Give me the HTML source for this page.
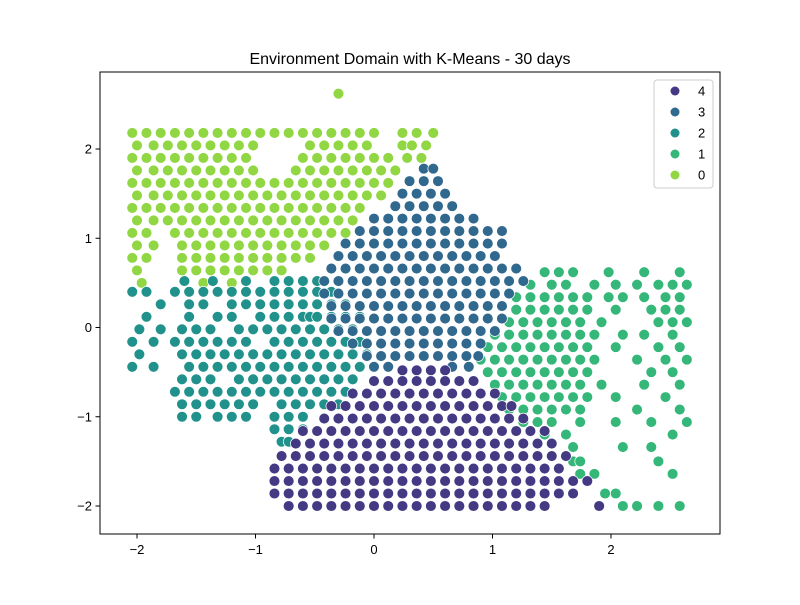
<!DOCTYPE html>
<html><head><meta charset="utf-8"><style>
body{margin:0;background:#fff;}
svg{font-family:"Liberation Sans","DejaVu Sans",sans-serif;}
</style></head><body>
<svg id="chart" width="800" height="600">
<rect width="800" height="600" fill="#fff"/>
<text x="410" y="64" text-anchor="middle" font-size="16">Environment Domain with K-Means - 30 days</text>
<g id="points"></g>
<rect x="100" y="72" width="620" height="462" fill="none" stroke="#000" stroke-width="1"/>
<g id="axes"></g>
<g>
<rect x="654" y="80" width="59" height="108" rx="3" fill="#fff" fill-opacity="0.8" stroke="#ccc"/>
<g id="legend"></g>
</g>
</svg>
<script>
const clusterLabels = ["4","3","2","1","0"];
const clusterColors = ["#443983","#31688e","#21918c","#35b779","#90d743"];
const rows0 = [
[2.62,[-0.3]],
[2.18,[-2.04,-1.92,-1.80,-1.68,-1.56,-1.44,-1.32,-1.20,-1.08,-0.96,-0.84,-0.72,-0.60,-0.48,-0.36,-0.24,-0.12,0.0,0.24,0.36,0.50]],
[2.04,[-2.0,-1.86,-1.74,-1.62,-1.50,-1.38,-1.26,-1.14,-1.02,-0.54,-0.42,-0.30,-0.18,-0.06,0.24,0.32,0.44]],
[1.90,[-2.04,-1.92,-1.80,-1.68,-1.56,-1.44,-1.32,-1.20,-1.08,-0.60,-0.48,-0.36,-0.24,-0.12,0.0,0.12,0.28,0.40]],
[1.76,[-2.0,-1.86,-1.74,-1.62,-1.50,-1.38,-1.26,-1.14,-1.02,-0.66,-0.54,-0.42,-0.30,-0.18,-0.06,0.06,0.18]],
[1.62,[-2.04,-1.92,-1.80,-1.68,-1.56,-1.44,-1.32,-1.20,-1.08,-0.96,-0.84,-0.72,-0.60,-0.48,-0.36,-0.24,-0.12,0.0,0.12]],
[1.48,[-2.0,-1.86,-1.74,-1.62,-1.50,-1.38,-1.26,-1.14,-1.02,-0.90,-0.78,-0.66,-0.54,-0.42,-0.30,-0.18,-0.06,0.06]],
[1.34,[-2.04,-1.92,-1.80,-1.68,-1.56,-1.44,-1.32,-1.20,-1.08,-0.96,-0.84,-0.72,-0.60,-0.48,-0.36,-0.24,-0.12]],
[1.20,[-2.0,-1.86,-1.74,-1.62,-1.50,-1.38,-1.26,-1.14,-1.02,-0.90,-0.78,-0.66,-0.54,-0.42,-0.30,-0.18]],
[1.06,[-2.04,-1.92,-1.68,-1.56,-1.44,-1.32,-1.20,-1.08,-0.96,-0.84,-0.72,-0.60,-0.48,-0.36,-0.24]],
[0.92,[-2.0,-1.86,-1.62,-1.50,-1.38,-1.26,-1.14,-1.02,-0.90,-0.78,-0.66,-0.54,-0.42]],
[0.78,[-2.04,-1.92,-1.62,-1.50,-1.38,-1.26,-1.14,-1.02,-0.90,-0.78,-0.66,-0.54]],
[0.64,[-2.0,-1.62,-1.50,-1.38,-1.26,-1.14,-1.02,-0.90,-0.78]],
[0.50,[-1.96,-1.44,-1.20]]
];
const rows1 = [
[0.62,[1.44,1.56,1.68,1.98,2.28,2.58]],
[0.48,[1.32,1.50,1.62,1.86,2.04,2.22,2.40,2.52,2.64]],
[0.34,[1.20,1.32,1.44,1.56,1.68,1.80,1.98,2.10,2.28,2.46,2.58]],
[0.20,[1.20,1.32,1.44,1.56,1.68,1.80,2.04,2.34,2.46,2.58]],
[0.06,[1.14,1.26,1.38,1.50,1.62,1.74,1.92,2.40,2.52,2.64]],
[-0.08,[1.02,1.14,1.26,1.38,1.50,1.62,1.74,1.86,2.10,2.28,2.52]],
[-0.22,[0.96,1.08,1.20,1.32,1.44,1.56,1.68,1.80,2.04,2.40,2.58]],
[-0.36,[0.90,1.02,1.14,1.26,1.38,1.50,1.62,1.74,1.86,2.22,2.46,2.64]],
[-0.50,[0.96,1.08,1.20,1.32,1.44,1.56,1.68,1.80,2.34,2.52]],
[-0.64,[1.02,1.14,1.26,1.38,1.50,1.62,1.74,1.92,2.28,2.58]],
[-0.78,[1.08,1.20,1.32,1.44,1.56,1.68,1.80,2.04,2.46]],
[-0.92,[1.14,1.26,1.38,1.50,1.62,1.74,2.22,2.58]],
[-1.06,[1.26,1.38,1.50,1.74,2.04,2.34,2.64]],
[-1.20,[1.44,1.62,2.52]],
[-1.34,[1.68,2.10,2.34]],
[-1.50,[1.68,1.74,2.40]],
[-1.64,[1.74,1.86,2.52]],
[-1.86,[1.95,2.04]],
[-2.0,[2.10,2.22,2.40,2.58]]
];
const rows2 = [
[0.52,[-1.60,-1.36,-1.08,-0.84,-0.72,-0.60,-0.48]],
[0.40,[-2.04,-1.92,-1.68,-1.56,-1.44,-1.32,-1.20,-1.08,-0.96,-0.84,-0.72,-0.60,-0.48,-0.36]],
[0.26,[-1.80,-1.56,-1.44,-1.20,-1.08,-0.96,-0.84,-0.72,-0.60,-0.48,-0.36,-0.24]],
[0.12,[-1.92,-1.56,-1.32,-1.20,-0.96,-0.84,-0.72,-0.60,-0.54,-0.48,-0.36,-0.24,-0.12]],
[-0.02,[-1.98,-1.80,-1.62,-1.50,-1.38,-1.14,-1.02,-0.90,-0.78,-0.66,-0.54,-0.42,-0.30,-0.18]],
[-0.16,[-2.04,-1.86,-1.68,-1.56,-1.44,-1.32,-1.20,-1.08,-0.84,-0.72,-0.60,-0.48,-0.36,-0.24,-0.12]],
[-0.30,[-1.98,-1.62,-1.50,-1.38,-1.26,-1.14,-1.02,-0.90,-0.78,-0.66,-0.54,-0.42,-0.30,-0.18,-0.06]],
[-0.44,[-2.04,-1.86,-1.56,-1.44,-1.32,-1.20,-1.08,-0.96,-0.84,-0.72,-0.60,-0.48,-0.36,-0.24,-0.12]],
[-0.58,[-1.62,-1.50,-1.38,-1.14,-1.02,-0.90,-0.78,-0.66,-0.54,-0.42,-0.30,-0.18]],
[-0.72,[-1.68,-1.56,-1.44,-1.32,-1.20,-1.08,-0.96,-0.84,-0.72,-0.60,-0.48,-0.36,-0.24]],
[-0.86,[-1.62,-1.50,-1.38,-1.26,-1.14,-1.02,-0.78,-0.66,-0.54,-0.42,-0.30]],
[-1.00,[-1.62,-1.50,-1.32,-1.20,-1.08,-0.84,-0.72,-0.60]],
[-1.14,[-0.84,-0.72,-0.60]],
[-1.28,[-0.78,-0.72]]
];
const rows3 = [
[1.78,[0.42,0.50]],
[1.64,[0.30,0.42,0.54]],
[1.50,[0.24,0.36,0.48,0.60]],
[1.36,[0.18,0.30,0.42,0.54,0.66]],
[1.22,[0.0,0.12,0.24,0.36,0.48,0.60,0.72,0.84]],
[1.08,[-0.12,0.0,0.12,0.24,0.36,0.48,0.60,0.72,0.84,0.96,1.08]],
[0.94,[-0.24,-0.12,0.0,0.12,0.24,0.36,0.48,0.60,0.72,0.84,0.96,1.08]],
[0.80,[-0.30,-0.18,-0.06,0.06,0.18,0.30,0.42,0.54,0.66,0.78,0.90,1.02]],
[0.66,[-0.36,-0.24,-0.12,0.0,0.12,0.24,0.36,0.48,0.60,0.72,0.84,0.96,1.08,1.20]],
[0.52,[-0.42,-0.30,-0.18,-0.06,0.06,0.18,0.30,0.42,0.54,0.66,0.78,0.90,1.02,1.14,1.26]],
[0.38,[-0.42,-0.30,-0.18,-0.06,0.06,0.18,0.30,0.42,0.54,0.66,0.78,0.90,1.02,1.14]],
[0.24,[-0.36,-0.24,-0.12,0.0,0.12,0.24,0.36,0.48,0.60,0.72,0.84,0.96,1.08]],
[0.10,[-0.36,-0.24,-0.12,0.0,0.12,0.24,0.36,0.48,0.60,0.72,0.84,0.96,1.08]],
[-0.04,[-0.30,-0.18,-0.06,0.06,0.18,0.30,0.42,0.54,0.66,0.78,0.90,1.02]],
[-0.18,[-0.18,-0.06,0.06,0.18,0.30,0.42,0.54,0.66,0.78,0.90]],
[-0.32,[-0.06,0.06,0.18,0.30,0.42,0.54,0.66,0.78,0.88]],
[-0.44,[0.0,0.12,0.66,0.80]]
];
const rows4 = [
[-0.48,[0.24,0.36,0.48,0.60]],
[-0.60,[0.0,0.12,0.24,0.36,0.48,0.60,0.72,0.84]],
[-0.74,[-0.18,-0.06,0.06,0.18,0.30,0.42,0.54,0.66,0.78,0.90,1.02]],
[-0.88,[-0.36,-0.24,-0.12,0.0,0.12,0.24,0.36,0.48,0.60,0.72,0.84,0.96,1.08,1.16]],
[-1.02,[-0.42,-0.30,-0.18,-0.06,0.06,0.18,0.30,0.42,0.54,0.66,0.78,0.90,1.02,1.14,1.26]],
[-1.16,[-0.60,-0.48,-0.36,-0.24,-0.12,0.0,0.12,0.24,0.36,0.48,0.60,0.72,0.84,0.96,1.08,1.20,1.32,1.44]],
[-1.30,[-0.66,-0.54,-0.42,-0.30,-0.18,-0.06,0.06,0.18,0.30,0.42,0.54,0.66,0.78,0.90,1.02,1.14,1.26,1.38,1.50]],
[-1.44,[-0.78,-0.66,-0.54,-0.42,-0.30,-0.18,-0.06,0.06,0.18,0.30,0.42,0.54,0.66,0.78,0.90,1.02,1.14,1.26,1.38,1.50,1.62]],
[-1.58,[-0.84,-0.72,-0.60,-0.48,-0.36,-0.24,-0.12,0.0,0.12,0.24,0.36,0.48,0.60,0.72,0.84,0.96,1.08,1.20,1.32,1.44,1.56]],
[-1.72,[-0.84,-0.72,-0.60,-0.48,-0.36,-0.24,-0.12,0.0,0.12,0.24,0.36,0.48,0.60,0.72,0.84,0.96,1.08,1.20,1.32,1.44,1.56,1.68,1.80]],
[-1.86,[-0.84,-0.72,-0.60,-0.48,-0.36,-0.24,-0.12,0.0,0.12,0.24,0.36,0.48,0.60,0.72,0.84,0.96,1.08,1.20,1.32,1.44,1.56,1.68]],
[-2.00,[-0.72,-0.60,-0.48,-0.36,-0.24,-0.12,0.0,0.12,0.24,0.36,0.48,0.60,0.72,0.84,0.96,1.08,1.20,1.32,1.44,1.90]]
];
const xTicks = [-2,-1,0,1,2];
const yTicks = [-2,-1,0,1,2];

const NS = "http://www.w3.org/2000/svg";
function xScale(v){ return 374 + 118.5*v; }
function yScale(v){ return 327.5 - 89.25*v; }
const ptsG = document.getElementById('points');
const clusterRows = [rows4, rows3, rows2, rows1, rows0];
[4,3,2,1,0].forEach(function(ci){
  const rows = clusterRows[ci];
  rows.forEach(function(r){
    r[1].forEach(function(x){
      const c = document.createElementNS(NS,'circle');
      c.setAttribute('cx', xScale(x));
      c.setAttribute('cy', yScale(r[0]));
      c.setAttribute('r', 5.4);
      c.setAttribute('fill', clusterColors[ci]);
      c.setAttribute('stroke', '#fff');
      c.setAttribute('stroke-width', 0.7);
      
      
      ptsG.appendChild(c);
    });
  });
});
const axG = document.getElementById('axes');
xTicks.forEach(function(t){
  const px = xScale(t);
  const l = document.createElementNS(NS,'line');
  l.setAttribute('x1',px);l.setAttribute('x2',px);l.setAttribute('y1',534);l.setAttribute('y2',538.5);
  l.setAttribute('stroke','#000');
  
  
  axG.appendChild(l);
  const tx = document.createElementNS(NS,'text');
  tx.setAttribute('x',px);tx.setAttribute('y',554);tx.setAttribute('text-anchor','middle');tx.setAttribute('font-size','13');
  tx.textContent = t<0 ? '\u2212'+Math.abs(t) : String(t);
  
  
  axG.appendChild(tx);
});
yTicks.forEach(function(t){
  const py = yScale(t);
  const l = document.createElementNS(NS,'line');
  l.setAttribute('x1',95.5);l.setAttribute('x2',100);l.setAttribute('y1',py);l.setAttribute('y2',py);
  l.setAttribute('stroke','#000');
  
  
  axG.appendChild(l);
  const tx = document.createElementNS(NS,'text');
  tx.setAttribute('x',92);tx.setAttribute('y',py+4.5);tx.setAttribute('text-anchor','end');tx.setAttribute('font-size','13');
  tx.textContent = t<0 ? '\u2212'+Math.abs(t) : String(t);
  
  
  axG.appendChild(tx);
});
const lg = document.getElementById('legend');
clusterLabels.forEach(function(lab,i){
  const y = 91 + i*21;
  const c = document.createElementNS(NS,'circle');
  c.setAttribute('cx',675);c.setAttribute('cy',y);c.setAttribute('r',4.5);
  c.setAttribute('fill',clusterColors[i]);
  
  
  lg.appendChild(c);
  const t = document.createElementNS(NS,'text');
  t.setAttribute('x',698);t.setAttribute('y',y+4.5);t.setAttribute('font-size','13');
  t.textContent = lab;
  
  
  lg.appendChild(t);
});
</script>
</body></html>
